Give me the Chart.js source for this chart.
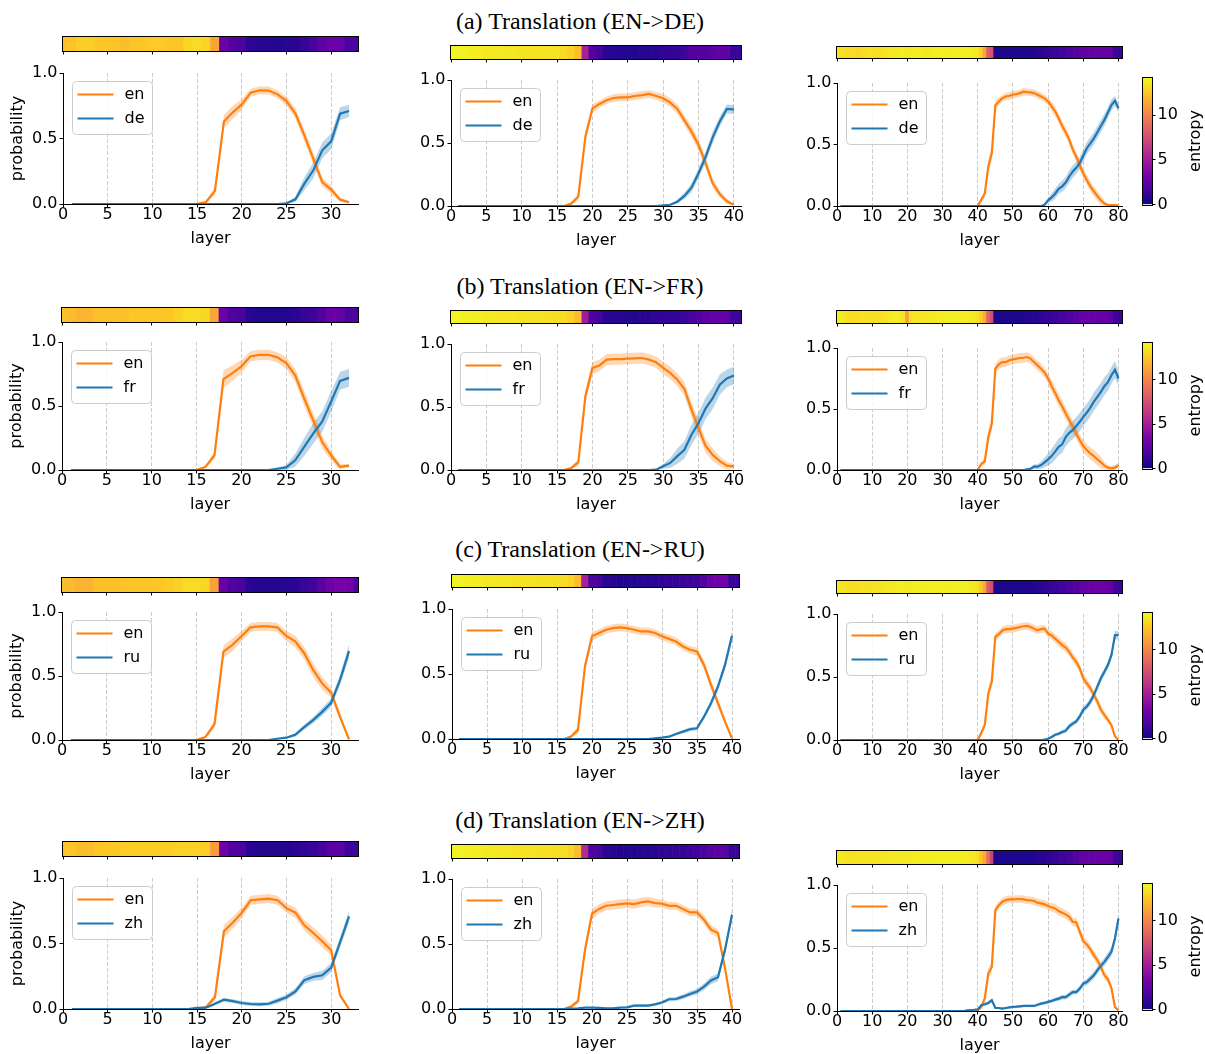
<!DOCTYPE html>
<html><head><meta charset="utf-8">
<script src="https://cdn.jsdelivr.net/npm/chart.js@4.4.1/dist/chart.umd.min.js"></script>
<style>
html,body{margin:0;padding:0;background:#fff;}
body{width:1205px;height:1054px;position:relative;overflow:hidden;}
canvas{position:absolute;}
.ttl{position:absolute;left:0;width:1160px;text-align:center;font-family:"Liberation Serif","Times New Roman",serif;font-size:24px;line-height:24px;color:#000;white-space:nowrap;}
</style></head><body>
<script>
// ---------------- DATA ----------------
const rowTitles = ['(a) Translation (EN->DE)','(b) Translation (EN->FR)','(c) Translation (EN->RU)','(d) Translation (EN->ZH)'];
const targetLangs = ['de','fr','ru','zh'];
const sourceLang = 'en';
const entropyMax = 14.2;
const entropyTicks = [0,5,10];

const layers32 = [1,2,3,4,5,6,7,8,9,10,11,12,13,14,15,16,17,18,19,20,21,22,23,24,25,26,27,28,29,30,31,32];
const layers40 = [1,2,3,4,5,6,7,8,9,10,11,12,13,14,15,16,17,18,19,20,21,22,23,24,25,26,27,28,29,30,31,32,33,34,35,36,37,38,39,40];
const layers80 = [1,2,3,4,5,6,7,8,9,10,11,12,13,14,15,16,17,18,19,20,21,22,23,24,25,26,27,28,29,30,31,32,33,34,35,36,37,38,39,40,
41,42,43,44,45,46,47,48,49,50,51,52,53,54,55,56,57,58,59,60,61,62,63,64,65,66,67,68,69,70,71,72,73,74,75,76,77,78,79,80];
const cells34 = [0,1,2,3,4,5,6,7,8,9,10,11,12,13,14,15,16,17,18,19,20,21,22,23,24,25,26,27,28,29,30,31,32,33];
const cells42 = [0,1,2,3,4,5,6,7,8,9,10,11,12,13,14,15,16,17,18,19,20,21,22,23,24,25,26,27,28,29,30,31,32,33,34,35,36,37,38,39,40,41];
const cells82 = [0,1,2,3,4,5,6,7,8,9,10,11,12,13,14,15,16,17,18,19,20,21,22,23,24,25,26,27,28,29,30,31,32,33,34,35,36,37,38,39,40,
41,42,43,44,45,46,47,48,49,50,51,52,53,54,55,56,57,58,59,60,61,62,63,64,65,66,67,68,69,70,71,72,73,74,75,76,77,78,79,80,81];

// (a) EN->DE
const de7bEn = [0,0,0,0,0,0,0,0,0,0, 0,0,0,0,0,0.015,0.10,0.63,0.70,0.76, 0.85,0.868,0.866,0.837,0.786,0.69,0.524,0.346,0.168,0.11, 0.033,0.013];
const de7bEnBand = [0,0,0,0,0,0,0,0,0,0, 0,0,0,0,0,0.01,0.03,0.05,0.05,0.04, 0.03,0.03,0.03,0.03,0.035,0.04,0.045,0.045,0.035,0.03, 0.015,0.01];
const de7bTgt = [0,0,0,0,0,0,0,0,0,0, 0,0,0,0,0,0,0,0,0,0, 0,0,0,0,0.005,0.036,0.155,0.257,0.41,0.478, 0.69,0.71];
const de7bTgtBand = [0,0,0,0,0,0,0,0,0,0, 0,0,0,0,0,0,0,0,0,0, 0,0,0,0,0.005,0.02,0.05,0.06,0.06,0.06, 0.05,0.045];
const de7bEntropy = [12.3,12.4,12.8,12.8,12.6,12.6,12.4,12.2,12.5,12.6, 12.7,12.7,12.6,12.5,13.1,13.2,13.0,11.3,2.9,2.1, 1.8,0.9,0.7,0.7,0.6,0.7,0.8,1.1,1.6,2.4, 2.8,2.8,1.7,1.7];

const de13bEn = [0,0,0,0,0,0,0,0,0,0, 0,0,0,0,0,0,0.02,0.074,0.55,0.775, 0.81,0.84,0.857,0.862,0.862,0.873,0.88,0.889,0.873,0.855, 0.82,0.77,0.68,0.59,0.484,0.34,0.18,0.095,0.037,0.01];
const de13bEnBand = [0,0,0,0,0,0,0,0,0,0, 0,0,0,0,0,0,0.01,0.03,0.04,0.035, 0.03,0.03,0.03,0.03,0.03,0.03,0.03,0.03,0.03,0.035, 0.035,0.04,0.04,0.045,0.045,0.045,0.035,0.03,0.02,0.01];
const de13bTgt = [0,0,0,0,0,0,0,0,0,0, 0,0,0,0,0,0,0,0,0,0, 0,0,0,0,0,0,0,0,0,0.005, 0.01,0.034,0.08,0.145,0.26,0.39,0.545,0.67,0.77,0.767];
const de13bTgtBand = [0,0,0,0,0,0,0,0,0,0, 0,0,0,0,0,0,0,0,0,0, 0,0,0,0,0,0,0,0,0,0.005, 0.008,0.015,0.025,0.035,0.04,0.045,0.045,0.04,0.035,0.035];
const de13bEntropy = [14.0,14.0,14.0,13.9,13.8,13.7,13.7,13.7,13.6,13.6, 13.5,13.5,13.5,13.4,13.5,13.4,13.2,12.9,12.2,5.3, 2.0,1.5,0.8,0.7,0.6,0.6,0.6,0.7,0.7,0.8, 0.9,1.0,1.1,1.4,1.9,2.0,2.1,2.3,2.5,2.5, 1.2,1.2];

const de70bEn = [0,0,0,0,0,0,0,0,0,0, 0,0,0,0,0,0,0,0,0,0, 0,0,0,0,0,0,0,0,0,0, 0,0,0,0,0,0,0,0,0,0,
0.05,0.10,0.32,0.43,0.82,0.85,0.877,0.89,0.896,0.905, 0.91,0.918,0.929,0.926,0.924,0.918,0.905,0.89,0.875,0.85,
0.81,0.77,0.714,0.65,0.60,0.54,0.46,0.40,0.33,0.264, 0.21,0.16,0.12,0.08,0.046,0.02,0.008,0.008,0.008,0.005];
const de70bEnBand = [0,0,0,0,0,0,0,0,0,0, 0,0,0,0,0,0,0,0,0,0, 0,0,0,0,0,0,0,0,0,0, 0,0,0,0,0,0,0,0,0,0,
0.02,0.03,0.05,0.06,0.04,0.03,0.03,0.03,0.03,0.03, 0.03,0.03,0.03,0.03,0.03,0.03,0.03,0.03,0.03,0.03,
0.04,0.04,0.04,0.04,0.04,0.04,0.04,0.04,0.04,0.04, 0.04,0.04,0.04,0.04,0.04,0.02,0.01,0.01,0.01,0.01];
const de70bTgt = [0,0,0,0,0,0,0,0,0,0, 0,0,0,0,0,0,0,0,0,0, 0,0,0,0,0,0,0,0,0,0, 0,0,0,0,0,0,0,0,0,0,
0,0,0,0,0,0,0,0,0,0, 0,0,0,0,0,0,0,0,0.01,0.046,
0.07,0.10,0.14,0.16,0.19,0.24,0.28,0.31,0.35,0.41, 0.47,0.51,0.55,0.60,0.65,0.70,0.76,0.82,0.855,0.795];
const de70bTgtBand = [0,0,0,0,0,0,0,0,0,0, 0,0,0,0,0,0,0,0,0,0, 0,0,0,0,0,0,0,0,0,0, 0,0,0,0,0,0,0,0,0,0,
0,0,0,0,0,0,0,0,0,0, 0,0,0,0,0,0,0,0,0.01,0.02,
0.035,0.04,0.04,0.045,0.045,0.05,0.05,0.05,0.05,0.05, 0.05,0.05,0.05,0.05,0.05,0.05,0.045,0.045,0.04,0.03];
const de70bEntropy = [13.5,13.5,13.4,13.2,13.2,13.2,13.1,13.2,13.3,13.4, 13.4,13.3,13.3,13.4,13.5,13.6,13.7,13.7,13.8,13.8,
13.7,13.7,13.8,13.8,13.8,13.7,13.7,13.8,13.8,13.9, 13.9,13.8,13.8,13.8,13.9,13.9,13.9,13.8,13.8,13.7,
13.6,13.0,11.3,8.2,7.8,0.5,0.4,0.4,0.4,0.4, 0.4,0.4,0.4,0.5,0.5,0.5,0.6,0.7,0.8,0.9,
1.0,1.1,1.2,1.3,1.4,1.5,1.6,1.8,2.0,2.2, 2.4,2.5,2.6,2.7,2.7,2.8,2.8,2.7,2.6,1.4, 1.2,1.2];

// (b) EN->FR
const fr7bEn = [0,0,0,0,0,0,0,0,0,0, 0,0,0,0,0,0.024,0.115,0.71,0.757,0.81, 0.887,0.90,0.90,0.88,0.835,0.74,0.56,0.39,0.22,0.115, 0.024,0.034];
const fr7bEnBand = [0,0,0,0,0,0,0,0,0,0, 0,0,0,0,0,0.01,0.03,0.07,0.06,0.05, 0.04,0.04,0.04,0.04,0.045,0.05,0.06,0.06,0.05,0.04, 0.02,0.015];
const fr7bTgt = [0,0,0,0,0,0,0,0,0,0, 0,0,0,0,0,0,0,0,0,0, 0,0,0,0.01,0.02,0.076,0.18,0.285,0.377,0.534, 0.696,0.72];
const fr7bTgtBand = [0,0,0,0,0,0,0,0,0,0, 0,0,0,0,0,0,0,0,0,0, 0,0,0,0.01,0.02,0.05,0.07,0.08,0.08,0.08, 0.07,0.07];
const fr7bEntropy = [12.3,12.2,11.9,11.9,12.3,12.3,12.3,12.3,12.5,12.5, 12.5,12.5,12.6,12.9,13.2,13.2,13.1,11.3,2.9,1.9, 1.7,0.8,0.6,0.6,0.6,0.6,0.8,1.1,1.3,2.0, 2.8,2.7,1.8,1.8];

const fr13bEn = [0,0,0,0,0,0,0,0,0,0, 0,0,0,0,0,0,0.016,0.06,0.585,0.81, 0.83,0.876,0.88,0.88,0.884,0.886,0.889,0.876,0.855,0.81, 0.77,0.717,0.643,0.48,0.333,0.19,0.12,0.07,0.034,0.029];
const fr13bEnBand = [0,0,0,0,0,0,0,0,0,0, 0,0,0,0,0,0,0.01,0.03,0.05,0.05, 0.045,0.045,0.045,0.045,0.045,0.045,0.045,0.045,0.045,0.05, 0.05,0.05,0.055,0.06,0.06,0.055,0.05,0.04,0.03,0.02];
const fr13bTgt = [0,0,0,0,0,0,0,0,0,0, 0,0,0,0,0,0,0,0,0,0, 0,0,0,0,0,0,0,0,0.003,0.03, 0.056,0.11,0.16,0.28,0.373,0.49,0.57,0.677,0.727,0.75];
const fr13bTgtBand = [0,0,0,0,0,0,0,0,0,0, 0,0,0,0,0,0,0,0,0,0, 0,0,0,0,0,0,0,0,0.005,0.02, 0.04,0.06,0.07,0.08,0.085,0.085,0.085,0.08,0.07,0.07];
const fr13bEntropy = [14.0,14.0,13.9,13.9,13.8,13.7,13.7,13.6,13.6,13.6, 13.5,13.5,13.5,13.4,13.4,13.3,13.2,12.9,12.1,5.0, 1.8,1.5,0.8,0.7,0.7,0.6,0.6,0.7,0.8,0.9, 1.0,1.0,1.1,1.3,1.7,2.0,2.3,2.5,2.6,2.5, 1.3,1.3];

const fr70bEn = [0,0,0,0,0,0,0,0,0,0, 0,0,0,0,0,0,0,0,0,0, 0,0,0,0,0,0,0,0,0,0, 0,0,0,0,0,0,0,0,0,0,
0.05,0.07,0.27,0.38,0.83,0.866,0.885,0.885,0.90,0.907, 0.913,0.918,0.92,0.926,0.913,0.885,0.858,0.83,0.80,0.75,
0.687,0.632,0.572,0.52,0.463,0.41,0.354,0.30,0.245,0.196, 0.163,0.136,0.114,0.087,0.063,0.035,0.019,0.014,0.019,0.04];
const fr70bEnBand = [0,0,0,0,0,0,0,0,0,0, 0,0,0,0,0,0,0,0,0,0, 0,0,0,0,0,0,0,0,0,0, 0,0,0,0,0,0,0,0,0,0,
0.02,0.03,0.05,0.06,0.04,0.04,0.04,0.04,0.04,0.04, 0.04,0.04,0.04,0.04,0.04,0.04,0.04,0.04,0.04,0.04,
0.05,0.05,0.05,0.05,0.05,0.05,0.05,0.05,0.05,0.05, 0.05,0.05,0.05,0.05,0.05,0.03,0.025,0.02,0.02,0.02];
const fr70bTgt = [0,0,0,0,0,0,0,0,0,0, 0,0,0,0,0,0,0,0,0,0, 0,0,0,0,0,0,0,0,0,0, 0,0,0,0,0,0,0,0,0,0,
0,0,0,0,0,0,0,0,0,0, 0,0,0,0.005,0.01,0.027,0.027,0.04,0.063,0.087,
0.114,0.15,0.19,0.21,0.27,0.305,0.327,0.36,0.395,0.436, 0.47,0.512,0.56,0.60,0.64,0.687,0.72,0.777,0.823,0.75];
const fr70bTgtBand = [0,0,0,0,0,0,0,0,0,0, 0,0,0,0,0,0,0,0,0,0, 0,0,0,0,0,0,0,0,0,0, 0,0,0,0,0,0,0,0,0,0,
0,0,0,0,0,0,0,0,0,0, 0,0,0,0.005,0.01,0.02,0.02,0.03,0.04,0.05,
0.06,0.065,0.07,0.07,0.075,0.075,0.075,0.075,0.075,0.075, 0.075,0.075,0.075,0.075,0.075,0.075,0.07,0.07,0.07,0.06];
const fr70bEntropy = [13.8,13.8,13.7,13.4,13.3,13.3,13.3,13.4,13.4,13.4, 13.4,13.3,13.3,13.4,13.5,13.7,13.8,13.8,13.7,13.5,
11.0,13.4,13.6,13.6,13.6,13.6,13.7,13.7,13.7,13.8, 13.8,13.8,13.9,13.9,13.9,13.9,13.8,13.8,13.7,13.6,
13.4,12.8,11.6,8.6,7.6,0.5,0.4,0.4,0.4,0.4, 0.4,0.5,0.5,0.5,0.6,0.6,0.7,0.8,0.9,1.0,
1.1,1.2,1.3,1.4,1.5,1.6,1.8,2.0,2.2,2.4, 2.6,2.7,2.8,2.8,2.7,2.7,2.6,2.5,2.4,1.4, 1.3,1.3];

// (c) EN->RU
const ru7bEn = [0,0,0,0,0,0,0,0,0,0, 0,0,0,0,0,0.024,0.123,0.69,0.743,0.81, 0.88,0.887,0.887,0.88,0.814,0.77,0.678,0.547,0.442,0.37, 0.18,0.005];
const ru7bEnBand = [0,0,0,0,0,0,0,0,0,0, 0,0,0,0,0,0.01,0.03,0.05,0.05,0.04, 0.035,0.035,0.035,0.035,0.04,0.045,0.05,0.055,0.05,0.04, 0.03,0.01];
const ru7bTgt = [0,0,0,0,0,0,0,0,0,0, 0,0,0,0,0,0,0,0,0,0, 0,0,0,0.01,0.018,0.04,0.10,0.155,0.22,0.29, 0.47,0.694];
const ru7bTgtBand = [0,0,0,0,0,0,0,0,0,0, 0,0,0,0,0,0,0,0,0,0, 0,0,0,0.005,0.008,0.015,0.02,0.025,0.03,0.035, 0.04,0.05];
const ru7bEntropy = [12.2,12.1,11.8,11.8,12.3,12.3,12.3,12.4,12.5,12.5, 12.5,12.6,12.7,12.9,13.2,13.2,13.1,11.2,2.8,1.9, 1.7,0.8,0.6,0.6,0.6,0.7,0.8,1.2,1.4,2.2, 3.0,3.2,3.1,1.9];

const ru13bEn = [0,0,0,0,0,0,0,0,0,0, 0,0,0,0,0,0,0.018,0.07,0.56,0.79, 0.815,0.84,0.853,0.859,0.853,0.84,0.828,0.828,0.815,0.79, 0.77,0.75,0.712,0.686,0.673,0.57,0.416,0.275,0.134,0.005];
const ru13bEnBand = [0,0,0,0,0,0,0,0,0,0, 0,0,0,0,0,0,0.01,0.03,0.04,0.035, 0.03,0.03,0.03,0.03,0.03,0.03,0.03,0.03,0.03,0.03, 0.03,0.03,0.03,0.03,0.03,0.035,0.035,0.03,0.02,0.005];
const ru13bTgt = [0,0,0,0,0,0,0,0,0,0, 0,0,0,0,0,0,0,0,0,0, 0,0,0,0,0,0,0,0,0.005,0.01, 0.018,0.038,0.057,0.075,0.082,0.172,0.275,0.404,0.57,0.794];
const ru13bTgtBand = [0,0,0,0,0,0,0,0,0,0, 0,0,0,0,0,0,0,0,0,0, 0,0,0,0,0,0,0,0,0.003,0.005, 0.008,0.01,0.012,0.015,0.015,0.02,0.025,0.03,0.035,0.04];
const ru13bEntropy = [14.0,14.0,13.9,13.9,13.8,13.7,13.7,13.6,13.6,13.5, 13.5,13.5,13.4,13.4,13.4,13.3,13.2,13.0,12.2,5.2, 1.8,1.6,0.8,0.7,0.6,0.6,0.6,0.7,0.7,0.8, 0.9,1.0,1.1,1.2,1.3,1.4,2.0,2.8,3.0,3.1, 1.2,1.2];

const ru70bEn = [0,0,0,0,0,0,0,0,0,0, 0,0,0,0,0,0,0,0,0,0, 0,0,0,0,0,0,0,0,0,0, 0,0,0,0,0,0,0,0,0,0,
0.055,0.12,0.37,0.463,0.82,0.84,0.87,0.88,0.88,0.884, 0.89,0.897,0.903,0.905,0.897,0.884,0.87,0.88,0.884,0.845,
0.83,0.805,0.78,0.753,0.734,0.70,0.655,0.62,0.568,0.49, 0.45,0.41,0.358,0.305,0.24,0.20,0.16,0.12,0.03,0.0];
const ru70bEnBand = [0,0,0,0,0,0,0,0,0,0, 0,0,0,0,0,0,0,0,0,0, 0,0,0,0,0,0,0,0,0,0, 0,0,0,0,0,0,0,0,0,0,
0.02,0.03,0.04,0.05,0.03,0.03,0.03,0.03,0.03,0.03, 0.03,0.03,0.03,0.03,0.03,0.03,0.03,0.03,0.03,0.03,
0.035,0.035,0.035,0.035,0.035,0.035,0.035,0.035,0.035,0.035, 0.035,0.035,0.035,0.035,0.035,0.03,0.025,0.02,0.01,0.005];
const ru70bTgt = [0,0,0,0,0,0,0,0,0,0, 0,0,0,0,0,0,0,0,0,0, 0,0,0,0,0,0,0,0,0,0, 0,0,0,0,0,0,0,0,0,0,
0,0,0,0,0,0,0,0,0,0, 0,0,0,0,0,0,0,0,0.003,0.01,
0.024,0.042,0.05,0.063,0.074,0.108,0.13,0.147,0.187,0.24, 0.266,0.305,0.358,0.424,0.49,0.542,0.595,0.674,0.832,0.832];
const ru70bTgtBand = [0,0,0,0,0,0,0,0,0,0, 0,0,0,0,0,0,0,0,0,0, 0,0,0,0,0,0,0,0,0,0, 0,0,0,0,0,0,0,0,0,0,
0,0,0,0,0,0,0,0,0,0, 0,0,0,0,0,0,0,0,0.002,0.005,
0.01,0.012,0.015,0.015,0.02,0.02,0.02,0.02,0.025,0.025, 0.025,0.03,0.03,0.03,0.03,0.03,0.03,0.035,0.035,0.03];
const ru70bEntropy = [13.6,13.6,13.5,13.4,13.3,13.3,13.3,13.4,13.4,13.4, 13.4,13.4,13.5,13.5,13.6,13.7,13.7,13.8,13.8,13.8,
13.7,13.7,13.8,13.8,13.8,13.8,13.8,13.9,13.9,13.9, 13.9,13.9,13.8,13.8,13.9,13.9,13.9,13.8,13.7,13.6,
13.4,12.6,11.4,8.2,7.6,0.5,0.4,0.4,0.4,0.4, 0.4,0.4,0.5,0.5,0.5,0.6,0.6,0.7,0.8,0.9,
1.0,1.1,1.2,1.3,1.4,1.5,1.7,1.9,2.1,2.3, 2.5,2.6,2.7,2.8,2.8,2.9,2.9,2.8,2.7,1.4, 1.3,1.3];

// (d) EN->ZH
const zh7bEn = [0,0,0,0,0,0,0,0,0,0, 0,0,0,0,0,0.015,0.09,0.593,0.66,0.735, 0.83,0.837,0.842,0.83,0.77,0.735,0.639,0.58,0.517,0.448, 0.104,0.0];
const zh7bEnBand = [0,0,0,0,0,0,0,0,0,0, 0,0,0,0,0,0.01,0.03,0.05,0.045,0.04, 0.035,0.035,0.035,0.035,0.035,0.04,0.04,0.045,0.045,0.04, 0.02,0.005];
const zh7bTgt = [0,0,0,0,0,0,0,0,0,0, 0,0,0,0,0.008,0.01,0.04,0.071,0.06,0.046, 0.038,0.036,0.04,0.064,0.09,0.135,0.22,0.245,0.257,0.316, 0.51,0.707];
const zh7bTgtBand = [0,0,0,0,0,0,0,0,0,0, 0,0,0,0,0.003,0.005,0.01,0.015,0.015,0.015, 0.015,0.015,0.015,0.02,0.02,0.025,0.03,0.03,0.035,0.035, 0.04,0.045];
const zh7bEntropy = [12.4,12.5,12.2,12.2,12.5,12.6,12.6,12.7,12.8,12.8, 12.8,12.8,12.8,12.9,12.9,12.9,12.8,10.9,3.0,2.0, 1.8,0.8,0.6,0.6,0.6,0.6,0.8,1.0,1.2,1.6, 2.2,2.3,1.3,1.3];

const zh13bEn = [0,0,0,0,0,0,0,0,0,0, 0,0,0,0,0,0,0.018,0.06,0.455,0.733, 0.77,0.794,0.80,0.807,0.812,0.807,0.82,0.828,0.815,0.81, 0.794,0.794,0.77,0.743,0.743,0.686,0.61,0.584,0.314,0.0];
const zh13bEnBand = [0,0,0,0,0,0,0,0,0,0, 0,0,0,0,0,0,0.01,0.02,0.04,0.04, 0.035,0.035,0.035,0.035,0.035,0.035,0.035,0.035,0.035,0.03, 0.03,0.03,0.03,0.03,0.03,0.035,0.035,0.03,0.02,0.005];
const zh13bTgt = [0,0,0,0,0,0,0,0,0,0, 0,0,0,0,0,0,0.003,0.005,0.01,0.01, 0.008,0.005,0.005,0.01,0.013,0.026,0.026,0.026,0.036,0.05, 0.075,0.077,0.095,0.116,0.134,0.172,0.22,0.244,0.455,0.725];
const zh13bTgtBand = [0,0,0,0,0,0,0,0,0,0, 0,0,0,0,0,0,0.002,0.003,0.005,0.005, 0.005,0.005,0.005,0.005,0.006,0.008,0.01,0.01,0.01,0.012, 0.015,0.015,0.018,0.02,0.02,0.025,0.03,0.03,0.035,0.04];
const zh13bEntropy = [14.0,14.0,13.9,13.9,13.8,13.7,13.7,13.6,13.6,13.5, 13.5,13.5,13.4,13.4,13.4,13.3,13.2,13.0,12.1,5.8, 1.9,1.6,0.8,0.7,0.6,0.6,0.6,0.7,0.7,0.8, 0.9,0.9,1.0,1.1,1.3,1.4,1.7,2.2,2.3,2.3, 1.2,1.2];

const zh70bEn = [0,0,0,0,0,0,0,0,0,0, 0,0,0,0,0,0,0,0,0,0, 0,0,0,0,0,0,0,0,0,0, 0,0,0,0,0,0,0,0,0,0.005,
0.03,0.1,0.297,0.35,0.80,0.84,0.867,0.88,0.886,0.886, 0.889,0.889,0.886,0.88,0.878,0.873,0.86,0.854,0.846,0.833,
0.822,0.814,0.793,0.78,0.767,0.748,0.708,0.703,0.629,0.554, 0.528,0.49,0.443,0.403,0.35,0.284,0.252,0.183,0.032,0.005];
const zh70bEnBand = [0,0,0,0,0,0,0,0,0,0, 0,0,0,0,0,0,0,0,0,0, 0,0,0,0,0,0,0,0,0,0, 0,0,0,0,0,0,0,0,0,0.002,
0.01,0.03,0.04,0.04,0.035,0.03,0.03,0.03,0.03,0.03, 0.03,0.03,0.03,0.03,0.03,0.03,0.03,0.03,0.03,0.03,
0.035,0.035,0.035,0.035,0.035,0.035,0.035,0.035,0.035,0.035, 0.035,0.035,0.035,0.035,0.035,0.03,0.03,0.03,0.01,0.005];
const zh70bTgt = [0,0,0,0,0,0,0,0,0,0, 0,0,0,0,0,0,0,0,0,0, 0,0,0,0,0,0,0,0,0,0, 0,0,0,0,0,0,0.005,0.008,0.01,0.013,
0.045,0.053,0.064,0.085,0.024,0.024,0.019,0.024,0.029,0.032, 0.034,0.037,0.04,0.04,0.04,0.04,0.05,0.058,0.064,0.072,
0.08,0.09,0.098,0.11,0.11,0.13,0.15,0.15,0.178,0.217, 0.23,0.257,0.284,0.324,0.358,0.39,0.43,0.47,0.576,0.735];
const zh70bTgtBand = [0,0,0,0,0,0,0,0,0,0, 0,0,0,0,0,0,0,0,0,0, 0,0,0,0,0,0,0,0,0,0, 0,0,0,0,0,0,0.002,0.003,0.004,0.005,
0.01,0.012,0.014,0.015,0.008,0.008,0.008,0.008,0.009,0.01, 0.01,0.01,0.01,0.01,0.01,0.01,0.012,0.012,0.013,0.014,
0.015,0.016,0.017,0.018,0.018,0.02,0.02,0.02,0.022,0.024, 0.025,0.026,0.028,0.03,0.03,0.032,0.035,0.035,0.035,0.04];
const zh70bEntropy = [13.7,13.7,13.6,13.4,13.4,13.5,13.5,13.5,13.5,13.5, 13.5,13.5,13.5,13.6,13.6,13.6,13.7,13.7,13.7,13.7,
13.7,13.7,13.8,13.8,13.8,13.8,13.8,13.8,13.9,13.9, 13.9,13.9,13.9,13.9,13.9,13.9,13.8,13.8,13.7,13.6,
13.4,12.4,11.4,9.0,7.0,0.5,0.4,0.4,0.4,0.4, 0.4,0.4,0.5,0.5,0.5,0.6,0.6,0.7,0.7,0.8,
0.9,1.0,1.1,1.2,1.3,1.4,1.5,1.7,1.9,2.2, 2.5,2.6,2.7,2.7,2.8,2.8,2.8,2.7,2.6,1.4, 1.3,1.3];

// ---------------- STYLE / LAYOUT ----------------
const FONT = '"DejaVu Sans", sans-serif';
Chart.defaults.font.family = FONT;
Chart.defaults.font.size = 16;
Chart.defaults.color = '#000';
Chart.defaults.animation = false;

const ORANGE = '#ff7f0e', BLUE = '#1f77b4';
const ORANGE_BAND = 'rgba(255,127,14,0.3)', BLUE_BAND = 'rgba(31,119,180,0.3)';
const PLASMA = ['#0d0887','#47039f','#7301a8','#9c179e','#bd3786','#d8576b','#ed7953','#fa9e3b','#fdc926','#f0f921'];

function hexRgb(h){return [parseInt(h.substr(1,2),16),parseInt(h.substr(3,2),16),parseInt(h.substr(5,2),16)];}
function plasma(t){
  t = Math.max(0, Math.min(1, t));
  const n = PLASMA.length - 1, f = t * n, i = Math.min(n - 1, Math.floor(f)), u = f - i;
  const a = hexRgb(PLASMA[i]), b = hexRgb(PLASMA[i+1]);
  return 'rgb(' + a.map((v,k)=>Math.round(v + (b[k]-v)*u)).join(',') + ')';
}

// plot geometry per [row][col]: axes box, entropy strip box
const GEO = [
 [{l:63.3,r:357.7,t:72.7,b:203.7,st:37.3,sb:51},{l:451,r:740.7,t:80,b:206,st:46,sb:59.3},{l:836.7,r:1122.3,t:83.3,b:205.7,st:46.7,sb:58.3}],
 [{l:61.7,r:357.7,t:342.3,b:469.7,st:308.3,sb:322},{l:451,r:740.7,t:344.3,b:470.3,st:310.7,sb:323.3},{l:836.7,r:1122.3,t:347.7,b:470,st:310.7,sb:322.7}],
 [{l:61.7,r:357.7,t:612.3,b:739.7,st:578.3,sb:592},{l:452.3,r:739.3,t:609.3,b:739,st:574.7,sb:587.3},{l:836.7,r:1122.3,t:613.7,b:740.3,st:580.7,sb:593.3}],
 [{l:63.3,r:357.7,t:877.7,b:1008.7,st:842.3,sb:856},{l:452.3,r:739.3,t:879.3,b:1009,st:845,sb:858.3},{l:836.7,r:1122.3,t:885,b:1010.7,st:850.7,sb:864.3}]
];
const CBAR = [{l:1142.7,r:1152,t:76,b:205.7},{l:1142.7,r:1152,t:340.7,b:470},{l:1142.7,r:1152,t:610.7,b:740.3},{l:1142.7,r:1152,t:881.7,b:1010.7}];
const TITLE_Y = [21, 286, 549, 820];
const XMAX = [33, 41, 81], XSTEP = [5, 5, 10];

const PANELS = [
 [[layers32,cells34,de7bEn,de7bEnBand,de7bTgt,de7bTgtBand,de7bEntropy],[layers40,cells42,de13bEn,de13bEnBand,de13bTgt,de13bTgtBand,de13bEntropy],[layers80,cells82,de70bEn,de70bEnBand,de70bTgt,de70bTgtBand,de70bEntropy]],
 [[layers32,cells34,fr7bEn,fr7bEnBand,fr7bTgt,fr7bTgtBand,fr7bEntropy],[layers40,cells42,fr13bEn,fr13bEnBand,fr13bTgt,fr13bTgtBand,fr13bEntropy],[layers80,cells82,fr70bEn,fr70bEnBand,fr70bTgt,fr70bTgtBand,fr70bEntropy]],
 [[layers32,cells34,ru7bEn,ru7bEnBand,ru7bTgt,ru7bTgtBand,ru7bEntropy],[layers40,cells42,ru13bEn,ru13bEnBand,ru13bTgt,ru13bTgtBand,ru13bEntropy],[layers80,cells82,ru70bEn,ru70bEnBand,ru70bTgt,ru70bTgtBand,ru70bEntropy]],
 [[layers32,cells34,zh7bEn,zh7bEnBand,zh7bTgt,zh7bTgtBand,zh7bEntropy],[layers40,cells42,zh13bEn,zh13bEnBand,zh13bTgt,zh13bTgtBand,zh13bEntropy],[layers80,cells82,zh70bEn,zh70bEnBand,zh70bTgt,zh70bTgtBand,zh70bEntropy]]
];

// ---------------- PLUGINS ----------------
function rrect(ctx, x, y, w, h, r){
  ctx.beginPath();
  ctx.moveTo(x + r, y); ctx.lineTo(x + w - r, y); ctx.arcTo(x + w, y, x + w, y + r, r);
  ctx.lineTo(x + w, y + h - r); ctx.arcTo(x + w, y + h, x + w - r, y + h, r);
  ctx.lineTo(x + r, y + h); ctx.arcTo(x, y + h, x, y + h - r, r);
  ctx.lineTo(x, y + r); ctx.arcTo(x, y, x + r, y, r); ctx.closePath();
}
const mplLegend = {
  id: 'mplLegend',
  afterDatasetsDraw(chart, args, opts){
    if (!opts || !opts.items) return;
    const ca = chart.chartArea, ctx = chart.ctx;
    ctx.save();
    ctx.font = '16px ' + FONT;
    let tw = 0; opts.items.forEach(it => { tw = Math.max(tw, ctx.measureText(it.label).width); });
    const x = Math.round(ca.left + opts.dx) + 0.5, y = Math.round(ca.top + opts.dy) + 0.5;
    const w = Math.round(52 + tw + 8), h = 53;
    rrect(ctx, x, y, w, h, 4);
    ctx.fillStyle = 'rgba(255,255,255,0.8)'; ctx.fill();
    ctx.strokeStyle = '#cccccc'; ctx.lineWidth = 1; ctx.stroke();
    opts.items.forEach((it, i) => {
      const yy = y + 13 + i * 24;
      ctx.beginPath(); ctx.moveTo(x + 5, yy); ctx.lineTo(x + 41, yy);
      ctx.strokeStyle = it.color; ctx.lineWidth = 2.2; ctx.stroke();
      ctx.fillStyle = '#000'; ctx.textBaseline = 'middle'; ctx.textAlign = 'left';
      ctx.fillText(it.label, x + 52, yy);
    });
    ctx.restore();
  }
};
const frame = {
  id: 'frame',
  afterDraw(chart){
    const ca = chart.chartArea, ctx = chart.ctx;
    ctx.save(); ctx.strokeStyle = '#000'; ctx.lineWidth = 1;
    ctx.strokeRect(Math.round(ca.left) - 0.5, Math.round(ca.top) - 0.5, Math.round(ca.right - ca.left) + 1, Math.round(ca.bottom - ca.top) + 1);
    ctx.restore();
  }
};
const cbLabel = {
  id: 'cbLabel',
  afterDraw(chart, args, opts){
    if (!opts || !opts.text) return;
    const ca = chart.chartArea, ctx = chart.ctx;
    ctx.save();
    ctx.translate(ca.right + opts.dx, (ca.top + ca.bottom) / 2);
    ctx.rotate(-Math.PI / 2);
    ctx.font = '16px ' + FONT; ctx.fillStyle = '#000';
    ctx.textAlign = 'center'; ctx.textBaseline = 'middle';
    ctx.fillText(opts.text, 0, 0);
    ctx.restore();
  }
};

function makeCanvas(left, top, w, h){
  const c = document.createElement('canvas');
  c.width = Math.round(w); c.height = Math.round(h);
  c.style.left = Math.round(left) + 'px'; c.style.top = Math.round(top) + 'px';
  c.style.width = Math.round(w) + 'px'; c.style.height = Math.round(h) + 'px';
  document.body.appendChild(c);
  return c;
}

// ---------------- BUILDERS ----------------
function linePanel(g, layers, en, enBand, tgt, tgtBand, tgtName, xMax, xStep, yTitle){
  const TP = 14, YW = 55, RP = 14, XH = 44;
  const L = Math.round(g.l), R = Math.round(g.r), T = Math.round(g.t), B = Math.round(g.b);
  const cv = makeCanvas(L - YW, T - TP, YW + (R - L) + RP, TP + (B - T) + XH);
  const pts = ys => layers.map((x, i) => ({x: x, y: ys[i]}));
  const lo = (m, s) => layers.map((x, i) => ({x: x, y: m[i] - s[i]}));
  const hi = (m, s) => layers.map((x, i) => ({x: x, y: m[i] + s[i]}));
  const band = (data, col, fill) => ({data: data, borderColor: 'rgba(0,0,0,0)', borderWidth: 0, pointRadius: 0, backgroundColor: col, fill: fill, tension: 0});
  new Chart(cv, {
    type: 'line',
    data: {datasets: [
      {label: tgtName, data: pts(tgt), borderColor: BLUE, borderWidth: 2.2, pointRadius: 0, fill: false, tension: 0},
      {label: sourceLang, data: pts(en), borderColor: ORANGE, borderWidth: 2.2, pointRadius: 0, fill: false, tension: 0},
      band(lo(tgt, tgtBand), BLUE_BAND, false),
      band(hi(tgt, tgtBand), BLUE_BAND, '-1'),
      band(lo(en, enBand), ORANGE_BAND, false),
      band(hi(en, enBand), ORANGE_BAND, '-1')
    ]},
    options: {
      responsive: false, devicePixelRatio: 1, animation: false, events: [],
      layout: {padding: {top: TP, right: RP, left: 0, bottom: 0}},
      plugins: {legend: {display: false}, tooltip: {enabled: false},
        mplLegend: {items: [{label: sourceLang, color: ORANGE}, {label: tgtName, color: BLUE}], dx: 9, dy: 8}},
      scales: {
        x: {type: 'linear', min: 0, max: xMax, afterFit(s){ s.height = XH; },
            ticks: {stepSize: xStep, includeBounds: false, maxRotation: 0, autoSkip: false, padding: -2.5},
            grid: {color: '#cccccc', lineWidth: 1, tickLength: 3.5, tickColor: '#000', tickWidth: 1, drawTicks: true},
            border: {display: true, color: '#000', width: 1, dash: [4, 2]},
            title: {display: true, text: 'layer', padding: {top: 0, bottom: 0}}},
        y: {min: 0, max: 1, afterFit(s){ s.width = YW; },
            ticks: {stepSize: 0.5, callback: v => Number(v).toFixed(1), padding: 2},
            grid: {drawOnChartArea: false, tickLength: 3.5, tickColor: '#000', tickWidth: 1},
            border: {display: true, color: '#000', width: 1},
            title: {display: yTitle, text: 'probability', padding: {top: 0, bottom: 0}}}
      }
    },
    plugins: [mplLegend]
  });
}

function stripPanel(g, cells, entropy, xMax, xStep){
  const P = 2, XH = 5;
  const L = Math.round(g.l), R = Math.round(g.r), T = Math.round(g.st), B = Math.round(g.sb);
  const cv = makeCanvas(L - P, T - P, (R - L) + 2 * P, (B - T) + P + XH);
  new Chart(cv, {
    type: 'bar',
    data: {datasets: [{data: cells.map(x => ({x: x, y: 1})), backgroundColor: entropy.map(e => plasma(e / entropyMax)),
      borderWidth: 0, barPercentage: 1, categoryPercentage: 1}]},
    options: {
      responsive: false, devicePixelRatio: 1, animation: false, events: [],
      layout: {padding: {left: P, right: P, top: P, bottom: 0}},
      plugins: {legend: {display: false}, tooltip: {enabled: false}},
      scales: {
        x: {type: 'linear', min: 0, max: xMax, offset: false, afterFit(s){ s.height = XH; },
            ticks: {display: false, stepSize: xStep, includeBounds: false},
            grid: {offset: false, drawOnChartArea: false, tickLength: 3.5, tickColor: '#000', tickWidth: 1},
            border: {display: true, color: '#000', width: 1}},
        y: {display: false, min: 0, max: 1}
      }
    },
    plugins: [frame]
  });
}

function colorbar(g){
  const P = 10;
  const L = Math.round(g.l), R = Math.round(g.r), T = Math.round(g.t), B = Math.round(g.b);
  const YW = 1205 - R;
  const cv = makeCanvas(L - 2, T - P, 2 + (R - L) + YW, (B - T) + 2 * P);
  new Chart(cv, {
    type: 'bar',
    data: {labels: [''], datasets: [{data: [entropyMax], borderWidth: 0, barPercentage: 1, categoryPercentage: 1,
      backgroundColor: c => {
        const ca = c.chart.chartArea; if (!ca) return PLASMA[0];
        const gr = c.chart.ctx.createLinearGradient(0, ca.bottom, 0, ca.top);
        PLASMA.forEach((h, i) => gr.addColorStop(i / (PLASMA.length - 1), h));
        return gr;
      }}]},
    options: {
      responsive: false, devicePixelRatio: 1, animation: false, events: [],
      layout: {padding: {left: 2, top: P, bottom: P, right: 0}},
      plugins: {legend: {display: false}, tooltip: {enabled: false}, cbLabel: {text: 'entropy', dx: 44}},
      scales: {
        x: {display: false},
        y: {position: 'right', min: 0, max: entropyMax, afterFit(s){ s.width = YW; },
            afterBuildTicks(s){ s.ticks = entropyTicks.map(v => ({value: v})); },
            ticks: {padding: 2},
            grid: {drawOnChartArea: false, tickLength: 3.5, tickColor: '#000', tickWidth: 1},
            border: {display: false}}
      }
    },
    plugins: [frame, cbLabel]
  });
}

// ---------------- BUILD ----------------
rowTitles.forEach((t, r) => {
  const d = document.createElement('div');
  d.className = 'ttl'; d.textContent = t; d.style.top = (TITLE_Y[r] - 12) + 'px';
  document.body.appendChild(d);
  for (let c = 0; c < 3; c++) {
    const p = PANELS[r][c], g = GEO[r][c];
    stripPanel(g, p[1], p[6], XMAX[c], XSTEP[c]);
    linePanel(g, p[0], p[2], p[3], p[4], p[5], targetLangs[r], XMAX[c], XSTEP[c], c === 0);
  }
  colorbar(CBAR[r]);
});
</script>
</body></html>
